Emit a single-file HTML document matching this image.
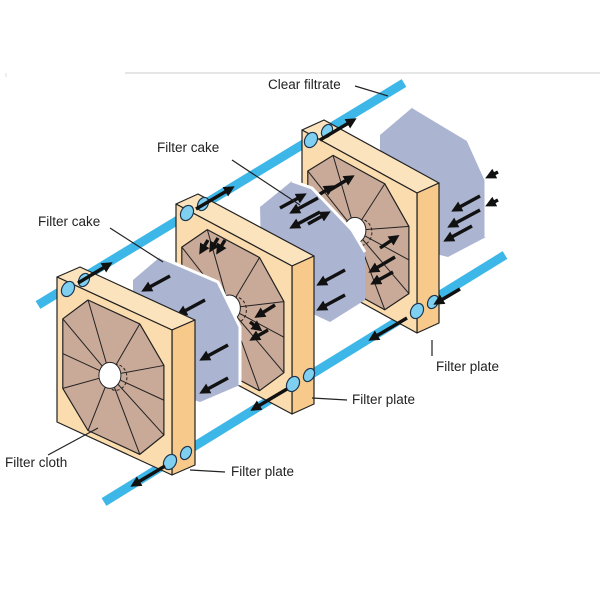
<!DOCTYPE html>
<html><head><meta charset="utf-8"><style>
html,body{margin:0;padding:0;background:#fff;}
svg{display:block;font-family:"Liberation Sans",Arial,sans-serif;}
</style></head><body>
<svg id="s" width="600" height="600" viewBox="0 0 600 600" xmlns="http://www.w3.org/2000/svg">
<defs>
<marker id="ah" markerWidth="3.2" markerHeight="3.2" refX="1.6" refY="1.6" orient="auto" markerUnits="strokeWidth"><path d="M0,0 L3.2,1.6 L0,3.2 z" fill="#111"/></marker>
</defs>
<line x1="125" y1="73" x2="600" y2="73" stroke="#ddd" stroke-width="1.5"/>
<line x1="6" y1="73" x2="6" y2="77" stroke="#ddd" stroke-width="1"/>
<g id="g"></g>
<g font-size="13.5" fill="#222">
<text x="268" y="89">Clear filtrate</text>
<text x="157" y="152">Filter cake</text>
<text x="38" y="226">Filter cake</text>
<text x="5" y="467">Filter cloth</text>
<text x="231" y="476">Filter plate</text>
<text x="352" y="404">Filter plate</text>
<text x="436" y="371">Filter plate</text>
</g>
<g stroke="#222" stroke-width="1.2" fill="none">
<path d="M355,86 L388,96"/>
<path d="M232,160 L300,205"/>
<path d="M110,228 L163,262"/>
<path d="M48,455 L98,428"/>
<path d="M190,470 L225,472"/>
<path d="M312,398 L347,400"/>
<path d="M432,340 L432,356"/>
</g>
</svg>
<script>
var g=document.getElementById('g'),h='';
function P(a){return a.map(function(p){return p[0].toFixed(1)+','+p[1].toFixed(1)}).join(' ');}
function poly(a,f,st,sw){h+='<polygon points="'+P(a)+'" fill="'+f+'" stroke="'+(st||'#222')+'" stroke-width="'+(sw||1.2)+'" stroke-linejoin="round"/>';}
function line(a,b,c,w,m){h+='<line x1="'+a[0]+'" y1="'+a[1]+'" x2="'+b[0]+'" y2="'+b[1]+'" stroke="'+(c||'#222')+'" stroke-width="'+(w||1)+'"'+(m?' marker-end="url(#ah)"':'')+'/>';}
function arrow(x,y,dx,dy){line([x,y],[x+dx,y+dy],'#111',3.4,true);}
function cake(a){poly(a,'#abb5d2','none',0);
 h+='<polyline points="'+P([a[1],a[2],a[3],a[4]])+'" fill="none" stroke="#fff" stroke-width="3"/>';}
function plate(tl,w,H,d){
 var TL=tl,TR=[tl[0]+w[0],tl[1]+w[1]],BR=[TR[0],TR[1]+H],BL=[tl[0],tl[1]+H];
 var D=function(p){return [p[0]+d[0],p[1]+d[1]]};
 poly([TL,D(TL),D(TR),TR],'#fbe3bd');
 poly([TR,D(TR),D(BR),BR],'#f7c98a');
 poly([TL,TR,BR,BL],'#fbdcaf');
 function m(u,v){return [TL[0]+u*w[0],TL[1]+u*w[1]+v*H];}
 var o=[[.27,.06],[.72,.06],[.93,.27],[.93,.75],[.72,.96],[.27,.96],[.05,.75],[.05,.27]].map(function(q){return m(q[0],q[1])});
 poly(o,'#c9a998');
 var c=m(.46,.51);
 o.forEach(function(p,i){line(c,p,'#222',1);});
 line(c,m(.05,.51),'#222',1);line(c,m(.93,.51),'#222',1);
 h+='<ellipse cx="'+(c[0]+6)+'" cy="'+(c[1]+2)+'" rx="11" ry="13" fill="none" stroke="#222" stroke-dasharray="3,2"/>';
 h+='<ellipse cx="'+c[0]+'" cy="'+c[1]+'" rx="11" ry="13" fill="#fff" stroke="#222"/>';
 return {TL:TL,BR:BR,m:m};
}
function cyl(x,y){h+='<ellipse cx="'+x+'" cy="'+y+'" rx="6" ry="8" transform="rotate(30 '+x+' '+y+')" fill="#7fd0f0" stroke="#1a3550" stroke-width="1.2"/>';
 h+='<ellipse cx="'+(x+16)+'" cy="'+(y-9)+'" rx="5" ry="7" transform="rotate(30 '+(x+16)+' '+(y-9)+')" fill="#7fd0f0" stroke="#1a3550" stroke-width="1.2"/>';}
line([38,305],[404,83],'#3db6e8',9);
line([104,502],[505,255],'#3db6e8',9);
cake([[380,135],[413,107],[468,140],[486,180],[486,237],[448,257],[380,240]]);
arrow(480,210,-28,15);arrow(472,226,-24,13);arrow(498,172,-8,4);arrow(480,196,-24,13);arrow(498,200,-8,4);
var p3=plate([302,130],[115,63],140,[22,-10]);
arrow(310,200,20,-12);arrow(330,190,20,-12);arrow(395,257,-22,13);arrow(380,248,15,-10);arrow(393,272,-18,10);
cake([[260,207],[292,181],[312,188],[352,230],[365,252],[365,300],[330,322],[262,290]]);
arrow(280,208,22,-12);arrow(318,198,-24,13);arrow(320,212,-26,14);arrow(345,270,-24,13);arrow(345,295,-24,13);arrow(308,224,18,-10);
var p2=plate([176,204],[116,62],148,[22,-10]);
arrow(218,238,-6,10);arrow(208,240,-6,10);arrow(225,240,-6,10);arrow(275,305,-16,10);arrow(268,330,-14,8);arrow(250,322,8,6);
cake([[133,280],[160,257],[218,282],[240,327],[240,385],[200,402],[133,380]]);
arrow(170,276,-24,13);arrow(205,300,-24,13);arrow(228,345,-24,13);arrow(228,378,-24,13);
var p1=plate([57,277],[115,53],145,[23,-10]);
cyl(68,289);cyl(187,213);cyl(311,140);
cyl(170,462);cyl(293,384);cyl(417,311);
arrow(78,283,30,-18);arrow(196,209,34,-20);arrow(320,140,32,-19);
arrow(165,466,-30,18);arrow(287,389,-32,19);arrow(407,318,-34,20);
arrow(460,289,-22,13);
g.innerHTML=h;
</script>
</body></html>
